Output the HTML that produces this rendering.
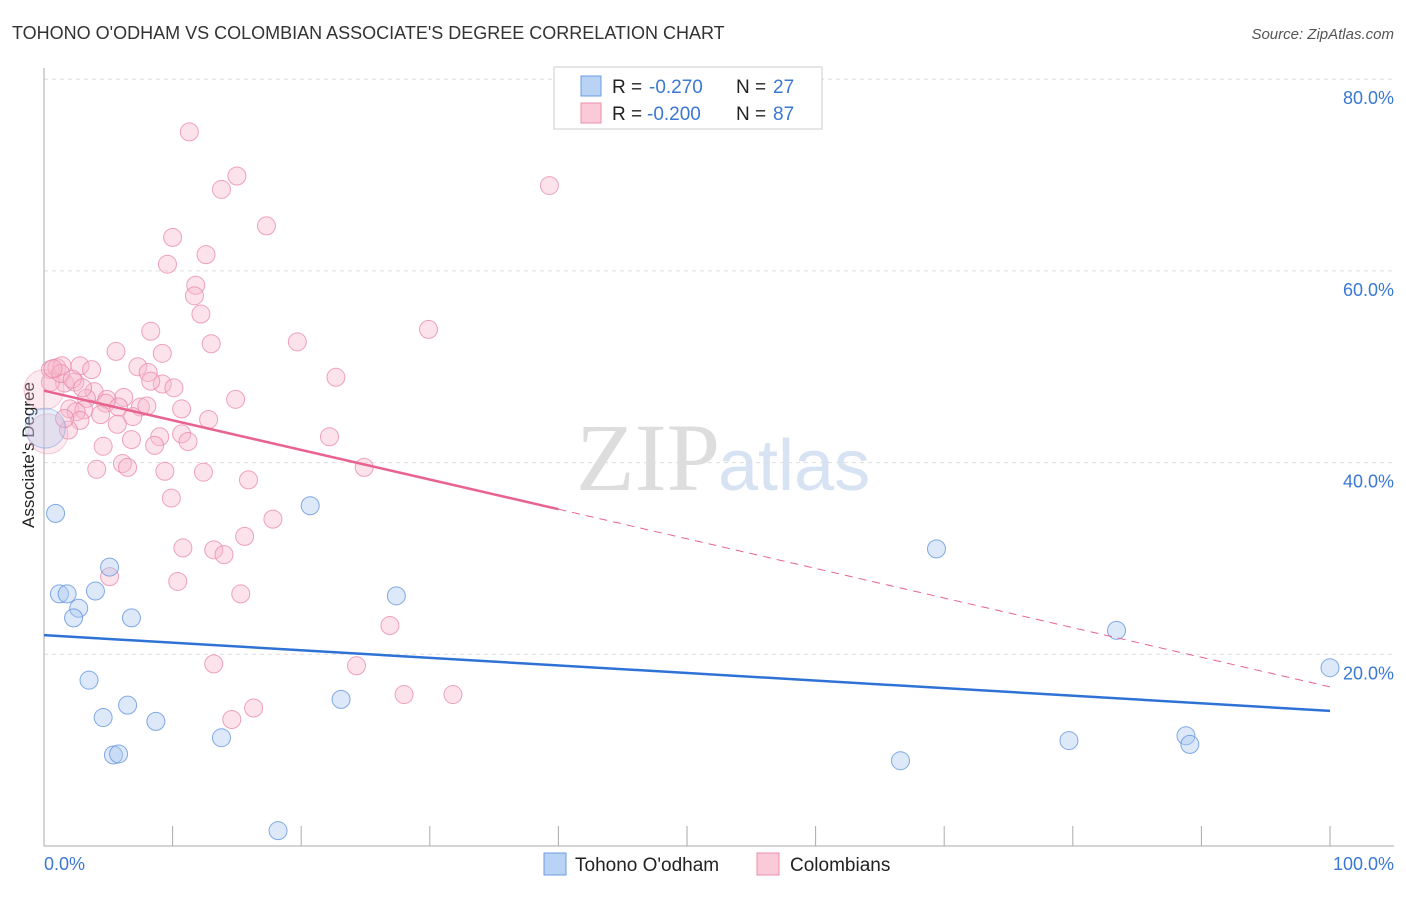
<!DOCTYPE html>
<html><head><meta charset="utf-8"><style>
body{margin:0;background:#fff;font-family:"Liberation Sans",sans-serif;}
</style></head><body>
<svg width="1406" height="892" xmlns="http://www.w3.org/2000/svg">
<text x="12" y="39" font-size="18" fill="#333">TOHONO O'ODHAM VS COLOMBIAN ASSOCIATE'S DEGREE CORRELATION CHART</text>
<text x="1394" y="39" font-size="15" fill="#555" text-anchor="end" font-style="italic">Source: ZipAtlas.com</text>
<text x="720" y="490" font-size="96" fill="#ddd" text-anchor="end" font-family="Liberation Serif">ZIP</text>
<text x="718" y="490" font-size="72" fill="#d7e3f3">atlas</text>
<g id="grid"></g>
<g id="axes"></g>
<text transform="translate(34,455) rotate(-90)" font-size="17" fill="#222" text-anchor="middle">Associate's Degree</text>
<text x="44" y="870" font-size="18" fill="#3a78d4">0.0%</text>
<text x="1394" y="870" font-size="18" fill="#3a78d4" text-anchor="end">100.0%</text>
<g id="marks"></g>
<g>
<rect x="554" y="67" width="268" height="62" fill="#fff" stroke="#ccc"/>
<rect x="581" y="76" width="20" height="20" fill="#b9d3f5" stroke="#6a9be0"/>
<rect x="581" y="103" width="20" height="20" fill="#fbcad8" stroke="#ec8fab"/>
<text x="612" y="93" font-size="19" fill="#222">R =</text>
<text x="649" y="93" font-size="19" fill="#3a78d4">-0.270</text>
<text x="736" y="93" font-size="19" fill="#222">N =</text>
<text x="773" y="93" font-size="19" fill="#3a78d4">27</text>
<text x="612" y="120" font-size="19" fill="#222">R =</text>
<text x="647" y="120" font-size="19" fill="#3a78d4">-0.200</text>
<text x="736" y="120" font-size="19" fill="#222">N =</text>
<text x="773" y="120" font-size="19" fill="#3a78d4">87</text>
</g>
<g>
<rect x="544" y="853" width="22" height="22" fill="#b9d3f5" stroke="#6a9be0"/>
<text x="575" y="871" font-size="19" fill="#222">Tohono O'odham</text>
<rect x="757" y="853" width="22" height="22" fill="#fbcad8" stroke="#ec8fab"/>
<text x="790" y="871" font-size="19" fill="#222">Colombians</text>
</g>
</svg>
<script>
const yTicks=[20,40,60,80];
const xTicks=[0,10,20,30,40,50,60,70,80,90,100];
const blueX=[0.9,1.2,1.8,2.7,2.3,4.0,5.1,6.8,3.5,4.6,6.5,8.7,5.4,5.8,13.8,18.2,20.7,23.1,27.4,69.4,83.4,79.7,66.6,88.8,89.1,100,0.1];
const blueY=[34.7,26.3,26.3,24.8,23.8,26.6,29.1,23.8,17.3,13.4,14.7,13.0,9.5,9.6,11.3,1.6,35.5,15.3,26.1,31.0,22.5,11.0,8.9,11.5,10.6,18.6,43.6];
const pinkX=[11.3,15.0,13.8,39.3,17.3,10.0,12.6,9.6,11.8,11.7,12.2,8.3,29.9,19.7,13.0,5.6,9.2,0.5,1.0,1.4,2.8,3.7,7.3,8.1,22.7,1.6,0.5,2.4,9.2,10.1,8.3,3.9,6.2,4.9,3.3,14.9,7.5,8.0,4.8,5.8,10.7,2.0,3.1,2.5,2.8,4.4,5.7,12.8,1.9,10.7,6.8,9.0,22.2,11.2,4.6,8.6,6.1,6.5,4.1,9.4,12.4,24.9,15.9,9.9,17.8,15.6,10.8,13.2,14.0,10.4,5.1,15.3,26.9,13.2,24.3,28.0,31.8,16.3,14.6,0.3,0.0,1.3,2.2,3.0,6.9,0.7,1.6];
const pinkY=[74.5,69.9,68.5,68.9,64.7,63.5,61.7,60.7,58.5,57.4,55.5,53.7,53.9,52.6,52.4,51.6,51.4,49.7,49.9,50.1,50.1,49.7,50.0,49.4,48.9,48.3,48.4,48.4,48.2,47.8,48.5,47.4,46.8,46.6,46.7,46.6,45.8,45.9,46.2,45.8,45.6,45.6,45.5,45.3,44.4,45.0,44.0,44.5,43.4,43.0,42.4,42.7,42.7,42.2,41.7,41.8,39.9,39.5,39.3,39.1,39.0,39.5,38.2,36.3,34.1,32.3,31.1,30.9,30.4,27.6,28.1,26.3,23.0,19.0,18.8,15.8,15.8,14.4,13.2,43.0,47.6,49.3,48.7,47.8,44.8,49.8,44.6];
const blueTrend=[22.0,14.1];
const pinkTrend=[47.5,16.6];
const ns="http://www.w3.org/2000/svg";
const X=v=>44+v*12.86, Y=v=>846-v*9.585;
function mk(t,a,p){const e=document.createElementNS(ns,t);for(const k in a)e.setAttribute(k,a[k]);p.appendChild(e);return e;}
const grid=document.getElementById('grid'),axes=document.getElementById('axes'),marks=document.getElementById('marks');
yTicks.forEach(v=>{
 const l=mk('line',{x1:44,x2:1394,y1:Y(v),y2:Y(v),stroke:'#ddd','stroke-dasharray':'4,4'},grid);
 
 
 const t=mk('text',{x:1394,y:Y(v)+25,'font-size':18,fill:'#3a78d4','text-anchor':'end'},grid);
 t.textContent=v.toFixed(1)+'%';
 
 
});
const ax=mk('line',{x1:44,x2:1394,y1:846,y2:846,stroke:'#aaa'},axes);


const ay=mk('line',{x1:44,x2:44,y1:68,y2:846,stroke:'#aaa'},axes);


xTicks.forEach(v=>{
 const t=mk('line',{x1:X(v),x2:X(v),y1:826,y2:846,stroke:'#aaa'},axes);
 
 
});
function dots(xs,ys,fill,stroke,name){
 xs.forEach((x,i)=>{
  const big=(i==xs.length-1&&name=='blue')||(name=='pink'&&i>=79&&i<=80);
  const r=big?20:9;
  const c=mk('circle',{cx:X(x),cy:Y(ys[i]),r:r,fill:fill,'fill-opacity':big?0.3:0.4,stroke:stroke,'stroke-opacity':big?0.4:0.75,'stroke-width':1},marks);
  
  
 });
}
dots(pinkX,pinkY,'#f8b8cc','#e985a6','pink');
dots(blueX,blueY,'#a9c8f0','#5b8fdc','blue');
const pm=pinkTrend[0]+(pinkTrend[1]-pinkTrend[0])*0.4;
const p1=mk('line',{x1:X(0),y1:Y(pinkTrend[0]),x2:X(40),y2:Y(pm),stroke:'#e8648f','stroke-width':2.5},marks);


const p2=mk('line',{x1:X(40),y1:Y(pm),x2:X(100),y2:Y(pinkTrend[1]),stroke:'#e8648f','stroke-width':1,'stroke-dasharray':'8,6'},marks);


const b=mk('line',{x1:X(0),y1:Y(blueTrend[0]),x2:X(100),y2:Y(blueTrend[1]),stroke:'#2f72d6','stroke-width':2.5},marks);


</script>
</body></html>
